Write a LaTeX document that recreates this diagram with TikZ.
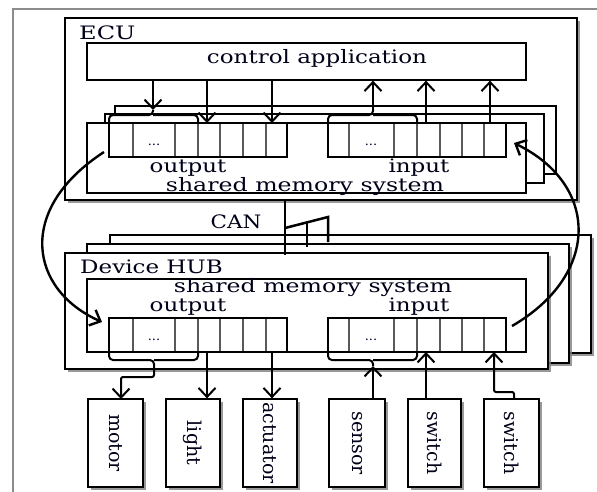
\documentclass[tikz,border=0pt]{standalone}
\usepackage{fontspec}
\setmainfont{DejaVu Serif}
\usepackage{graphicx}
\usetikzlibrary{arrows.meta,shadows,fit}
\newcommand{\xwide}[2][1.07]{\scalebox{#1}[0.86]{#2}}
\begin{document}
\begin{tikzpicture}[x=1pt,y=-1pt,
  box/.style={draw=black, line width=1.3pt, fill=white, inner sep=0pt},
  sbox/.style={box, drop shadow={shadow xshift=2.5pt,shadow yshift=-2.5pt,fill=black!50,opacity=0.8}},
  regbox/.style={draw=black, line width=2pt, inner sep=0pt},
  cell/.style={draw=black!65, line width=1.6pt},
  arr/.style={line width=2pt, -{Straight Barb[length=9pt,width=17pt]}},
  carr/.style={line width=2.4pt, -{Straight Barb[length=9pt,width=17pt]}},
  brc/.style={line width=2pt, rounded corners=4pt},
  lbl/.style={font=\fontsize{21.5}{24}\selectfont, inner sep=0pt, text=black!90!blue},
  leaftxt/.style={font=\fontsize{19}{21}\selectfont, text=black!90!blue},
  dots/.style={font=\fontsize{13}{15}\selectfont, inner sep=0pt, text=black!80!blue}
]
\fill[white] (0,0) rectangle (597,491);
\useasboundingbox (0,0) rectangle (597,491);
\draw[black!45, line width=1.8pt] (13,495) -- (13,9) -- (600,9);

% ECU
\node[sbox, fit={(65,18) (577,200)}] (ecu) {};
\node[lbl, anchor=base west] (ecuL) at (79,39) {\xwide[1.12]{ECU}};
\node[box, fit={(87,43) (526,80)}] (ctrl) {};
\node[lbl, anchor=base] (ctrlL) at (317,63) {\xwide{control application}};

\node[box, fit={(115,106) (556,174)}] (esm3) {};
\node[box, fit={(105,114) (544,183)}] (esm2) {};
\node[box, fit={(87,123) (526,193)}] (esm) {};

% ECU output register
\foreach \x in {133,175,198,220,243,266} \draw[cell] (\x,123) -- (\x,157);
\node[regbox, fit={(109,123) (287,157)}] (eout) {};
\node[dots, anchor=base] at (154,145) {...};
% ECU input register
\foreach \x in {349,394,417,440,462,484} \draw[cell] (\x,123) -- (\x,157);
\node[regbox, fit={(328,123) (506,157)}] (ein) {};
\node[dots, anchor=base] at (371,145) {...};

\node[lbl, anchor=base] (eoutL) at (188,172) {\xwide{output}};
\node[lbl, anchor=base] (einL) at (419,172) {\xwide{input}};
\node[lbl, anchor=base] (esmL) at (305,191) {\xwide[1.1]{shared memory system}};

% ECU arrows
\coordinate (eotip) at (153,110);
\draw[brc] (109,123) |- (153,115) -- (eotip);
\draw[brc] (198,123) |- (153,115);
\draw[arr] (ctrl.south -| eotip) -- (eotip);
\coordinate (eo2) at (207,123);
\coordinate (eo3) at (272,123);
\draw[arr] (ctrl.south -| eo2) -- (eo2);
\draw[arr] (ctrl.south -| eo3) -- (eo3);

\coordinate (eitip) at (373,110);
\draw[brc] (328,123) |- (373,115) -- (eitip);
\draw[brc] (417,123) |- (373,115);
\draw[arr] (eitip) -- (ctrl.south -| eitip);
\coordinate (ei2) at (426,123);
\coordinate (ei3) at (490,123);
\draw[arr] (ei2) -- (ctrl.south -| ei2);
\draw[arr] (ei3) -- (ctrl.south -| ei3);

% CAN
\node[lbl, anchor=base] (can) at (236,228) {\xwide[1.0]{CAN}};

% Device HUB
\node[sbox, fit={(110,235) (591,353)}] (hub3) {};
\node[sbox, fit={(87,244) (569,363)}] (hub2) {};
\node[sbox, fit={(65,253) (548,369)}] (hub) {};
\node[lbl, anchor=base west] (hubL) at (80,273) {\xwide{Device HUB}};
\node[box, fit={(87,279) (526,352)}] (hsm) {};
\node[lbl, anchor=base] (hsmL) at (313,292) {\xwide[1.1]{shared memory system}};
\node[lbl, anchor=base] (houtL) at (188,311) {\xwide{output}};
\node[lbl, anchor=base] (hinL) at (419,311) {\xwide{input}};

\foreach \x in {133,175,198,220,243,266} \draw[cell] (\x,318) -- (\x,352);
\node[regbox, fit={(109,318) (287,352)}] (hout) {};
\node[dots, anchor=base] at (154,340) {...};
\foreach \x in {349,394,417,440,462,484} \draw[cell] (\x,318) -- (\x,352);
\node[regbox, fit={(328,318) (506,352)}] (hin) {};
\node[dots, anchor=base] at (371,340) {...};

% bus
\coordinate (busT) at (285,200);
\coordinate (busB) at (285,255);
\draw[line width=2.5pt] (busT) -- (busB);
\draw[line width=2.5pt] (285,228) -- (328,217) -- (328,242);
\draw[line width=2.5pt] (307,222.4) -- (307,247);

% leaves
\node[sbox, fit={(88,399) (143,487)}] (motor) {};
\node[leaftxt] at (motor.center) {\rotatebox{-90}{motor}};
\node[sbox, fit={(166,399) (220,487)}] (light) {};
\node[leaftxt] at (light.center) {\rotatebox{-90}{light}};
\node[sbox, fit={(243,399) (297,487)}] (act) {};
\node[leaftxt] at (act.center) {\rotatebox{-90}{actuator}};
\node[sbox, fit={(329,399) (385,487)}] (sensor) {};
\node[leaftxt] at (sensor.center) {\rotatebox{-90}{sensor}};
\node[sbox, fit={(408,399) (461,487)}] (sw1) {};
\node[leaftxt] at (sw1.center) {\rotatebox{-90}{switch}};
\node[sbox, fit={(484,399) (539,487)}] (sw2) {};
\node[leaftxt] at (sw2.center) {\rotatebox{-90}{switch}};

% HUB output arrows
\coordinate (hotip) at (154,367);
\draw[brc] (109,352) |- (154,360) -- (hotip);
\draw[brc] (198,352) |- (154,360);
\coordinate (motin) at (121,399);
\draw[arr, rounded corners=2pt] (hotip) -- (154,377) -| (motin);
\coordinate (ho2) at (207,352);
\coordinate (ho3) at (272,352);
\draw[arr] (ho2) -- (light.north -| ho2);
\draw[arr] (ho3) -- (act.north -| ho3);

% HUB input arrows
\coordinate (hitip) at (373,366);
\draw[brc] (328,352) |- (373,360) -- (hitip);
\draw[brc] (417,352) |- (373,360);
\draw[arr] (sensor.north -| hitip) -- (hitip);
\coordinate (hi2) at (426,352);
\coordinate (hi3) at (494,352);
\draw[arr] (sw1.north -| hi2) -- (hi2);
\coordinate (sw2out) at (514,399);
\draw[arr, rounded corners=2pt] (sw2out) -- (514,392) -| (hi3);

% curved transfers
\coordinate (lcs) at (104,152);
\coordinate (lce) at (102,322);
\draw[carr] (lcs) .. controls (15,210) and (30,290) .. (lce);
\coordinate (rcs) at (512,326);
\coordinate (rce) at (514,143);
\draw[carr] (rcs) .. controls (600,275) and (600,185) .. (rce);
\end{tikzpicture}
\end{document}
